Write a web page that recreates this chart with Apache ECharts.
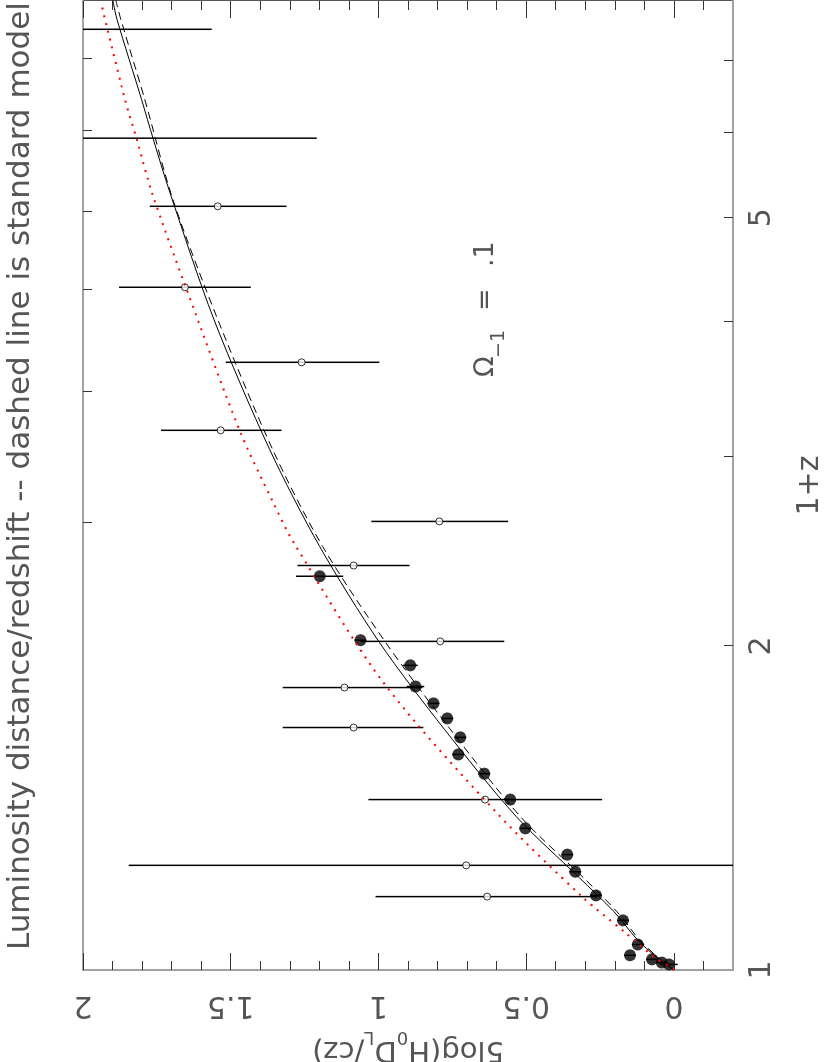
<!DOCTYPE html>
<html>
<head>
<meta charset="utf-8">
<script src="https://cdn.jsdelivr.net/npm/echarts@6.0.0/dist/echarts.min.js"></script>
<style>
  html, body { margin: 0; padding: 0; overflow: hidden; background: #fff; width: 831px; height: 1062px; }
  /* the chart is drawn landscape, then turned a quarter turn to the left */
  #chart { position: absolute; left: 0; top: 0; width: 1062px; height: 831px;
           transform-origin: 0 0; transform: translate(0, 1062px) rotate(-90deg); }
</style>
</head>
<body>
<div id="chart"></div>
<script>
// ---- data (1+z, 5log(H0 DL/cz)) ----
// open circles, with error bars
var openZ  = [1.170, 1.251, 1.440, 1.680, 1.830, 2.020, 2.376, 2.611, 3.173, 3.670, 4.309, 5.124, 5.928, 7.483];
var openMu = [0.632, 0.703, 0.639, 1.084, 1.115, 0.791, 1.084, 0.794, 1.534, 1.260, 1.655, 1.544, 2.100, 2.200];
var openLo = [0.260, -0.440, 0.243, 0.848, 0.851, 0.574, 0.895, 0.561, 1.328, 0.997, 1.432, 1.311, 1.209, 1.564];
var openHi = [1.010, 1.845, 1.034, 1.324, 1.324, 1.060, 1.274, 1.024, 1.736, 1.517, 1.878, 1.774, 2.990, 2.840];

// filled circles, with (small) error bars
var fillZ  = [1.012, 1.016, 1.023, 1.032, 1.056, 1.112, 1.173, 1.234, 1.280, 1.354, 1.440, 1.522, 1.586, 1.645, 1.713, 1.769, 1.834, 1.919, 2.025, 2.322];
var fillMu = [0.017, 0.041, 0.074, 0.149, 0.122, 0.172, 0.264, 0.334, 0.361, 0.503, 0.554, 0.642, 0.730, 0.723, 0.767, 0.814, 0.875, 0.892, 1.061, 1.199];
var fillEr = [0.030, 0.020, 0.020, 0.020, 0.020, 0.020, 0.020, 0.020, 0.020, 0.020, 0.020, 0.020, 0.020, 0.020, 0.020, 0.020, 0.030, 0.025, 0.020, 0.080];

// model curves
var solidZ  = [1.000, 1.029, 1.068, 1.133, 1.219, 1.389, 1.674, 2.016, 2.475, 3.045, 4.023, 5.279, 5.914, 6.442, 7.645, 7.962];
var solidMu = [0.000, 0.061, 0.125, 0.203, 0.321, 0.534, 0.777, 0.997, 1.199, 1.368, 1.557, 1.706, 1.762, 1.802, 1.885, 1.899];
var dashZ   = [1.000, 1.029, 1.068, 1.133, 1.219, 1.386, 1.674, 2.016, 2.475, 3.045, 4.023, 5.201, 6.442, 7.645, 7.962];
var dashMu  = [0.000, 0.057, 0.118, 0.193, 0.307, 0.517, 0.757, 0.976, 1.189, 1.358, 1.544, 1.696, 1.791, 1.872, 1.889];
var dotZ    = [1.000, 1.008, 1.029, 1.086, 1.170, 1.401, 1.854, 2.496, 2.725, 3.173, 4.309, 5.279, 5.914, 6.442, 7.860];
var dotMu   = [0.000, 0.017, 0.068, 0.169, 0.311, 0.601, 0.986, 1.287, 1.358, 1.470, 1.652, 1.767, 1.818, 1.858, 1.936];

// ticks and labels
var zTicks   = [2, 3, 4, 5, 6, 7];
var zLabels  = [1, 2, 5];
var topTicks = [2.605, 3.449, 4.29, 5.07, 6.02, 7.02];
var muMajor  = [0, 0.5, 1, 1.5, 2];
var muMinor  = [-0.1, 0.1, 0.2, 0.3, 0.4, 0.6, 0.7, 0.8, 0.9, 1.1, 1.2, 1.3, 1.4, 1.6, 1.7, 1.8, 1.9];

var FONT = 'DejaVu Sans';
var TXT = '#555';
var tickLine = { color: '#333', width: 1 };
var frameLine = { color: '#a3a3a3', width: 2 };

var chart = echarts.init(document.getElementById('chart'));

function zip(a, b) { return a.map(function (v, i) { return [v, b[i]]; }); }

function errorBars(zs, lo, hi) {
  return {
    type: 'custom',
    clip: true,
    silent: true,
    data: zs.map(function (z, i) { return [z, lo[i], hi[i]]; }),
    encode: { x: 0, y: [1, 2] },
    renderItem: function (params, api) {
      var a = api.coord([api.value(0), api.value(1)]);
      var b = api.coord([api.value(0), api.value(2)]);
      return {
        type: 'line',
        shape: { x1: a[0], y1: a[1], x2: b[0], y2: b[1] },
        style: { stroke: '#000', lineWidth: 1.5 }
      };
    }
  };
}

function muAxis(pos, ticks, len, line, withLabels) {
  return {
    type: 'value', min: -0.2, max: 2, position: pos,
    axisLine: { show: !!line, onZero: false, lineStyle: line || {} },
    axisTick: { show: true, inside: true, length: len, customValues: ticks, lineStyle: tickLine },
    axisLabel: withLabels ? {
      show: true, customValues: muMajor, rotate: 90, margin: 20,
      fontSize: 30, color: TXT, fontFamily: FONT,
      formatter: function (v) { return String(Math.round(v * 10) / 10); }
    } : { show: false },
    splitLine: { show: false }
  };
}

var yMain = muAxis('left', muMajor, 17, frameLine, true);
yMain.name = '{a|5log(H}{s|0}{a|D}{s|L}{a|/cz)}';
yMain.nameLocation = 'middle';
yMain.nameGap = 52;
yMain.nameRotate = 90;
yMain.nameTextStyle = {
  rich: {
    a: { fontSize: 29, fontFamily: FONT, color: TXT, lineHeight: 44 },
    s: { fontSize: 18, fontFamily: FONT, color: TXT, lineHeight: 44, verticalAlign: 'bottom' }
  }
};

var option = {
  animation: false,
  backgroundColor: '#fff',
  title: {
    text: 'Luminosity distance/redshift -- dashed line is standard model',
    left: 107, top: 0,
    textStyle: { fontSize: 31, fontWeight: 'normal', color: TXT, fontFamily: FONT }
  },
  grid: { left: 92, right: 1, top: 83, bottom: 98, outerBoundsMode: 'none', containLabel: false },
  xAxis: [
    {
      type: 'log', logBase: 10, min: 1, max: 7.95, position: 'bottom',
      axisLine: { show: true, onZero: false, lineStyle: frameLine },
      axisTick: { show: true, inside: true, length: 9, customValues: zTicks, lineStyle: tickLine },
      axisLabel: {
        show: true, customValues: zLabels, margin: 14,
        fontSize: 30, color: TXT, fontFamily: FONT,
        formatter: function (v) { return String(Math.round(v)); }
      },
      splitLine: { show: false },
      name: '1+z', nameLocation: 'middle', nameGap: 62,
      nameTextStyle: { fontSize: 30, color: TXT, fontFamily: FONT }
    },
    {
      type: 'log', logBase: 10, min: 1, max: 7.95, position: 'top',
      axisLine: { show: true, onZero: false, lineStyle: frameLine },
      axisTick: { show: true, inside: true, length: 9, customValues: topTicks, lineStyle: tickLine },
      axisLabel: { show: false },
      splitLine: { show: false }
    }
  ],
  yAxis: [
    yMain,
    muAxis('left', muMinor, 9, null, false),
    muAxis('right', muMajor, 17, { color: '#555', width: 1 }, false),
    muAxis('right', muMinor, 9, null, false)
  ],
  graphic: [
    { type: 'text', left: 685, top: 472, style: { text: 'Ω', font: '27px "DejaVu Sans"', fill: TXT } },
    { type: 'text', left: 704, top: 490, style: { text: '−1', font: '19px "DejaVu Sans"', fill: TXT } },
    { type: 'text', left: 751, top: 472, style: { text: '=', font: '27px "DejaVu Sans"', fill: TXT } },
    { type: 'text', left: 795, top: 472, style: { text: '.1', font: '27px "DejaVu Sans"', fill: TXT } }
  ],
  series: [
    {
      type: 'line', data: zip(dashZ, dashMu), smooth: 0.3, showSymbol: false, symbol: 'none',
      lineStyle: { color: '#000', width: 1, type: [8, 5] }, silent: true
    },
    {
      type: 'line', data: zip(solidZ, solidMu), smooth: 0.3, showSymbol: false, symbol: 'none',
      lineStyle: { color: '#000', width: 1 }, silent: true
    },
    {
      type: 'line', data: zip(dotZ, dotMu), smooth: 0.3, showSymbol: false, symbol: 'none',
      lineStyle: { color: '#ff0000', width: 2, type: [2, 6] }, silent: true
    },
    errorBars(openZ, openLo, openHi),
    errorBars(fillZ,
      fillMu.map(function (m, i) { return m - fillEr[i]; }),
      fillMu.map(function (m, i) { return m + fillEr[i]; })),
    {
      type: 'scatter', data: zip(openZ, openMu), symbol: 'circle', symbolSize: 7, clip: true,
      itemStyle: { color: '#fff', borderColor: '#000', borderWidth: 1 }, silent: true
    },
    {
      type: 'scatter', data: zip(fillZ, fillMu), symbol: 'circle', symbolSize: 12, clip: true,
      itemStyle: { color: '#000' }, silent: true
    }
  ]
};

chart.setOption(option);
</script>
</body>
</html>
